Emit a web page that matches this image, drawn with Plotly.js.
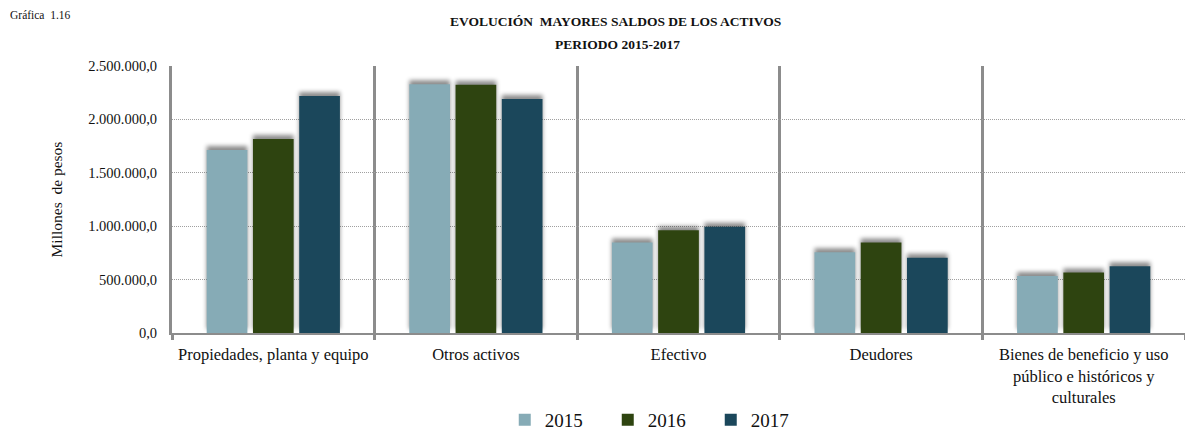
<!DOCTYPE html>
<html>
<head>
<meta charset="utf-8">
<script src="https://cdn.plot.ly/plotly-3.0.1.min.js"></script>
<style>
  html, body { margin: 0; padding: 0; background: #fff; }
  #chart { width: 1185px; height: 433px; }
  .bars .point path { filter: drop-shadow(0px -4px 2px rgba(0,0,0,0.45)); }
</style>
</head>
<body>
<div id="chart"></div>
<script>
const categories = [
  "Propiedades, planta y equipo",
  "Otros activos",
  "Efectivo",
  "Deudores",
  "Bienes de beneficio y uso<br>público e históricos y<br>culturales"
];
const years = ["2015", "2016", "2017"];
const values2015 = [1713000, 2329000, 848000, 755000, 534000];
const values2016 = [1816000, 2325000, 961000, 848000, 567000];
const values2017 = [2219000, 2191000, 995000, 705000, 625000];
const yTicks = [0, 500000, 1000000, 1500000, 2000000, 2500000];
const colors = ["#86abb6", "#2e4410", "#1b475b"];
const titleLines = ["EVOLUCIÓN  MAYORES SALDOS DE LOS ACTIVOS", "PERIODO 2015-2017"];

const serif = "'Liberation Serif'";
const series = [values2015, values2016, values2017];
const data = series.map((vals, i) => ({
  type: "bar",
  name: years[i],
  x: categories,
  y: vals,
  marker: { color: colors[i], line: { width: 0 } },
  hoverinfo: "none"
}));

const PW = 1013, PH = 267;
const layout = {
  width: 1185,
  height: 433,
  margin: { l: 172, r: 0, t: 66, b: 100, autoexpand: false },
  paper_bgcolor: "#ffffff",
  plot_bgcolor: "#ffffff",
  separators: ",.",
  font: { family: serif, color: "#111", size: 15 },
  barmode: "group",
  bargap: 0.315,
  bargroupgap: 0.12,
  showlegend: true,
  legend: {
    orientation: "h",
    x: 0.481, xanchor: "center",
    y: -(401 - 333) / PH, yanchor: "top",
    font: { family: serif, size: 19, color: "#111" },
    entrywidth: 58,
    traceorder: "normal"
  },
  xaxis: {
    type: "category",
    tickson: "boundaries",
    tickangle: 0,
    automargin: false,
    showgrid: true,
    gridcolor: "#8c8c8c",
    gridwidth: 3,
    showline: true,
    linecolor: "#8c8c8c",
    linewidth: 1.5,
    ticks: "outside",
    ticklen: 5,
    tickwidth: 3,
    tickcolor: "#8c8c8c",
    ticklabelstandoff: 6,
    tickfont: { family: serif, size: 16.5, color: "#111" },
    fixedrange: true
  },
  yaxis: {
    range: [0, 2500000],
    tickvals: yTicks,
    tickformat: ",.1f",
    automargin: false,
    showgrid: true,
    gridcolor: "#a0a0a0",
    gridwidth: 1,
    griddash: "1px,1px",
    zeroline: false,
    showline: true,
    linecolor: "#8c8c8c",
    linewidth: 3,
    ticks: "",
    ticklabelstandoff: 9,
    tickfont: { family: serif, size: 14.5, color: "#111" },
    title: { text: "Millones  de pesos", font: { family: serif, size: 15.5, color: "#111" }, standoff: 22 },
    fixedrange: true
  },
  annotations: [
    {
      text: "Gráfica  1.16",
      xref: "paper", yref: "paper",
      x: -172 / PW, y: 1 + 51 / PH,
      xanchor: "left", yanchor: "middle",
      xshift: 8,
      showarrow: false,
      font: { family: serif, size: 11.5, color: "#111" }
    },
    {
      text: "<b>" + titleLines[0] + "</b>",
      xref: "paper", yref: "paper",
      x: (615 - 172) / PW, y: 1 + 45 / PH,
      xanchor: "center", yanchor: "middle",
      showarrow: false,
      font: { family: serif, size: 13.5, color: "#111" }
    },
    {
      text: "<b>" + titleLines[1] + "</b>",
      xref: "paper", yref: "paper",
      x: (617 - 172) / PW, y: 1 + 22 / PH,
      xanchor: "center", yanchor: "middle",
      showarrow: false,
      font: { family: serif, size: 13.5, color: "#111" }
    }
  ]
};

Plotly.newPlot("chart", data, layout, { displayModeBar: false, staticPlot: true });
</script>
</body>
</html>
